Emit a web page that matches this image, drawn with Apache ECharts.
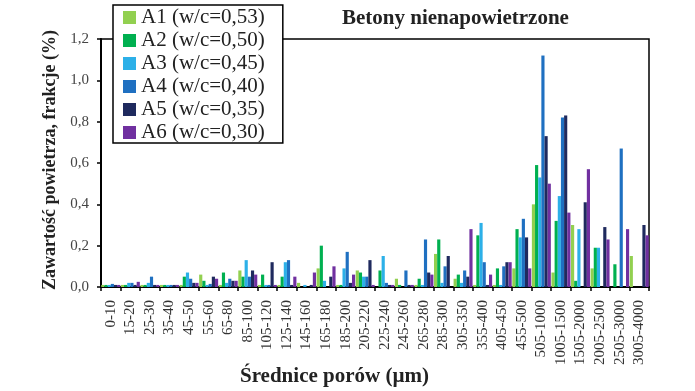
<!DOCTYPE html>
<html><head><meta charset="utf-8">
<script src="https://cdn.jsdelivr.net/npm/echarts@6/dist/echarts.min.js"></script>
<style>html,body{margin:0;padding:0;background:#fff}#c{width:695px;height:391px}</style>
</head><body><div id="c"></div>
<script>
const categories = ['0-10','15-20','25-30','35-40','45-50','55-60','65-80','85-100','105-120','125-140','145-160','165-180','185-200','205-220','225-240','245-260','265-280','285-300','305-350','355-400','405-450','455-500','505-1000','1005-1500','1505-2000','2005-2500','2505-3000','3005-4000'];
const seriesNames = ['A1 (w/c=0,53)','A2 (w/c=0,50)','A3 (w/c=0,45)','A4 (w/c=0,40)','A5 (w/c=0,35)','A6 (w/c=0,30)'];
const A1 = [0.01,0.01,0.01,0.01,0.01,0.06,0.01,0.08,0.01,0.01,0.02,0.09,0.01,0.08,0.00,0.04,0.01,0.16,0.04,0.01,0.01,0.09,0.40,0.07,0.30,0.09,0.00,0.15];
const A2 = [0.01,0.01,0.01,0.01,0.05,0.03,0.07,0.05,0.06,0.05,0.00,0.20,0.01,0.07,0.08,0.01,0.04,0.23,0.06,0.25,0.09,0.28,0.59,0.32,0.03,0.19,0.11,0.00];
const A3 = [0.01,0.02,0.02,0.01,0.07,0.01,0.02,0.13,0.01,0.12,0.01,0.03,0.09,0.05,0.15,0.00,0.01,0.02,0.02,0.31,0.01,0.24,0.53,0.44,0.28,0.19,0.00,0.00];
const A4 = [0.015,0.02,0.05,0.01,0.04,0.015,0.04,0.05,0.01,0.13,0.00,0.00,0.17,0.05,0.02,0.08,0.23,0.10,0.08,0.12,0.10,0.33,1.12,0.82,0.00,0.00,0.67,0.00];
const A5 = [0.01,0.01,0.01,0.01,0.02,0.05,0.03,0.08,0.12,0.01,0.01,0.05,0.02,0.13,0.01,0.01,0.07,0.15,0.05,0.01,0.12,0.24,0.73,0.83,0.41,0.29,0.00,0.30];
const A6 = [0.01,0.025,0.01,0.01,0.02,0.04,0.03,0.06,0.01,0.05,0.07,0.10,0.06,0.01,0.01,0.01,0.06,0.00,0.28,0.06,0.12,0.09,0.50,0.36,0.57,0.23,0.28,0.25];
const colors = ['#92d050','#00b050','#2cb0e8','#1f70c1','#1f2a5e','#7030a0'];
const allData = [A1,A2,A3,A4,A5,A6];
const FONT = '"Liberation Serif","Times New Roman",serif';

const chart = echarts.init(document.getElementById('c'), null, {renderer:'canvas'});
chart.setOption({
  animation:false,
  backgroundColor:'#fff',
  color: colors,
  grid:{left:101,right:46,top:39,bottom:104,show:true,borderColor:'#000',borderWidth:1.5,backgroundColor:'transparent'},
  legend:{
    orient:'vertical', left:113, top:5,
    data: seriesNames,
    icon:'rect', itemWidth:13, itemHeight:13, itemGap:2,
    padding:[2,18,0,10],
    backgroundColor:'#fff', borderColor:'#000', borderWidth:1.5,
    textStyle:{fontFamily:FONT,fontSize:21,color:'#222',lineHeight:21}
  },
  xAxis:{
    type:'category', data:categories,
    axisLine:{lineStyle:{color:'#000',width:2}},
    axisTick:{show:true,length:4,inside:false,lineStyle:{color:'#000',width:1.5}},
    axisLabel:{rotate:90,interval:0,margin:13,fontFamily:FONT,fontSize:15,color:'#333'}
  },
  yAxis:{
    type:'value', min:0, max:1.2, interval:0.2,
    name:'Zawartość powietrza, frakcje (%)', nameLocation:'middle', nameGap:42, nameRotate:90,
    nameTextStyle:{fontFamily:FONT,fontSize:18,fontWeight:'bold',color:'#222',padding:[0,0,0,6]},
    splitLine:{show:false},
    axisLine:{show:true,lineStyle:{color:'#000',width:2}},
    axisTick:{show:true,length:4,lineStyle:{color:'#000',width:1.5}},
    axisLabel:{margin:12,fontFamily:FONT,fontSize:15,color:'#444',formatter:v=>v.toFixed(1).replace('.',',')}
  },
  graphic:[
    {type:'text',left:342,top:8,style:{text:'Betony nienapowietrzone',font:'bold 21px '+FONT,fill:'#222'}},
    {type:'text',left:240,top:366,style:{text:'Średnice porów (µm)',font:'bold 21px '+FONT,fill:'#222'}}
  ],
  series: allData.map((d,i)=>({
    name:seriesNames[i], type:'bar', data:d,
    barGap:'0%', barCategoryGap:'3%',
    itemStyle:{color:colors[i]}
  }))
});
</script></body></html>
